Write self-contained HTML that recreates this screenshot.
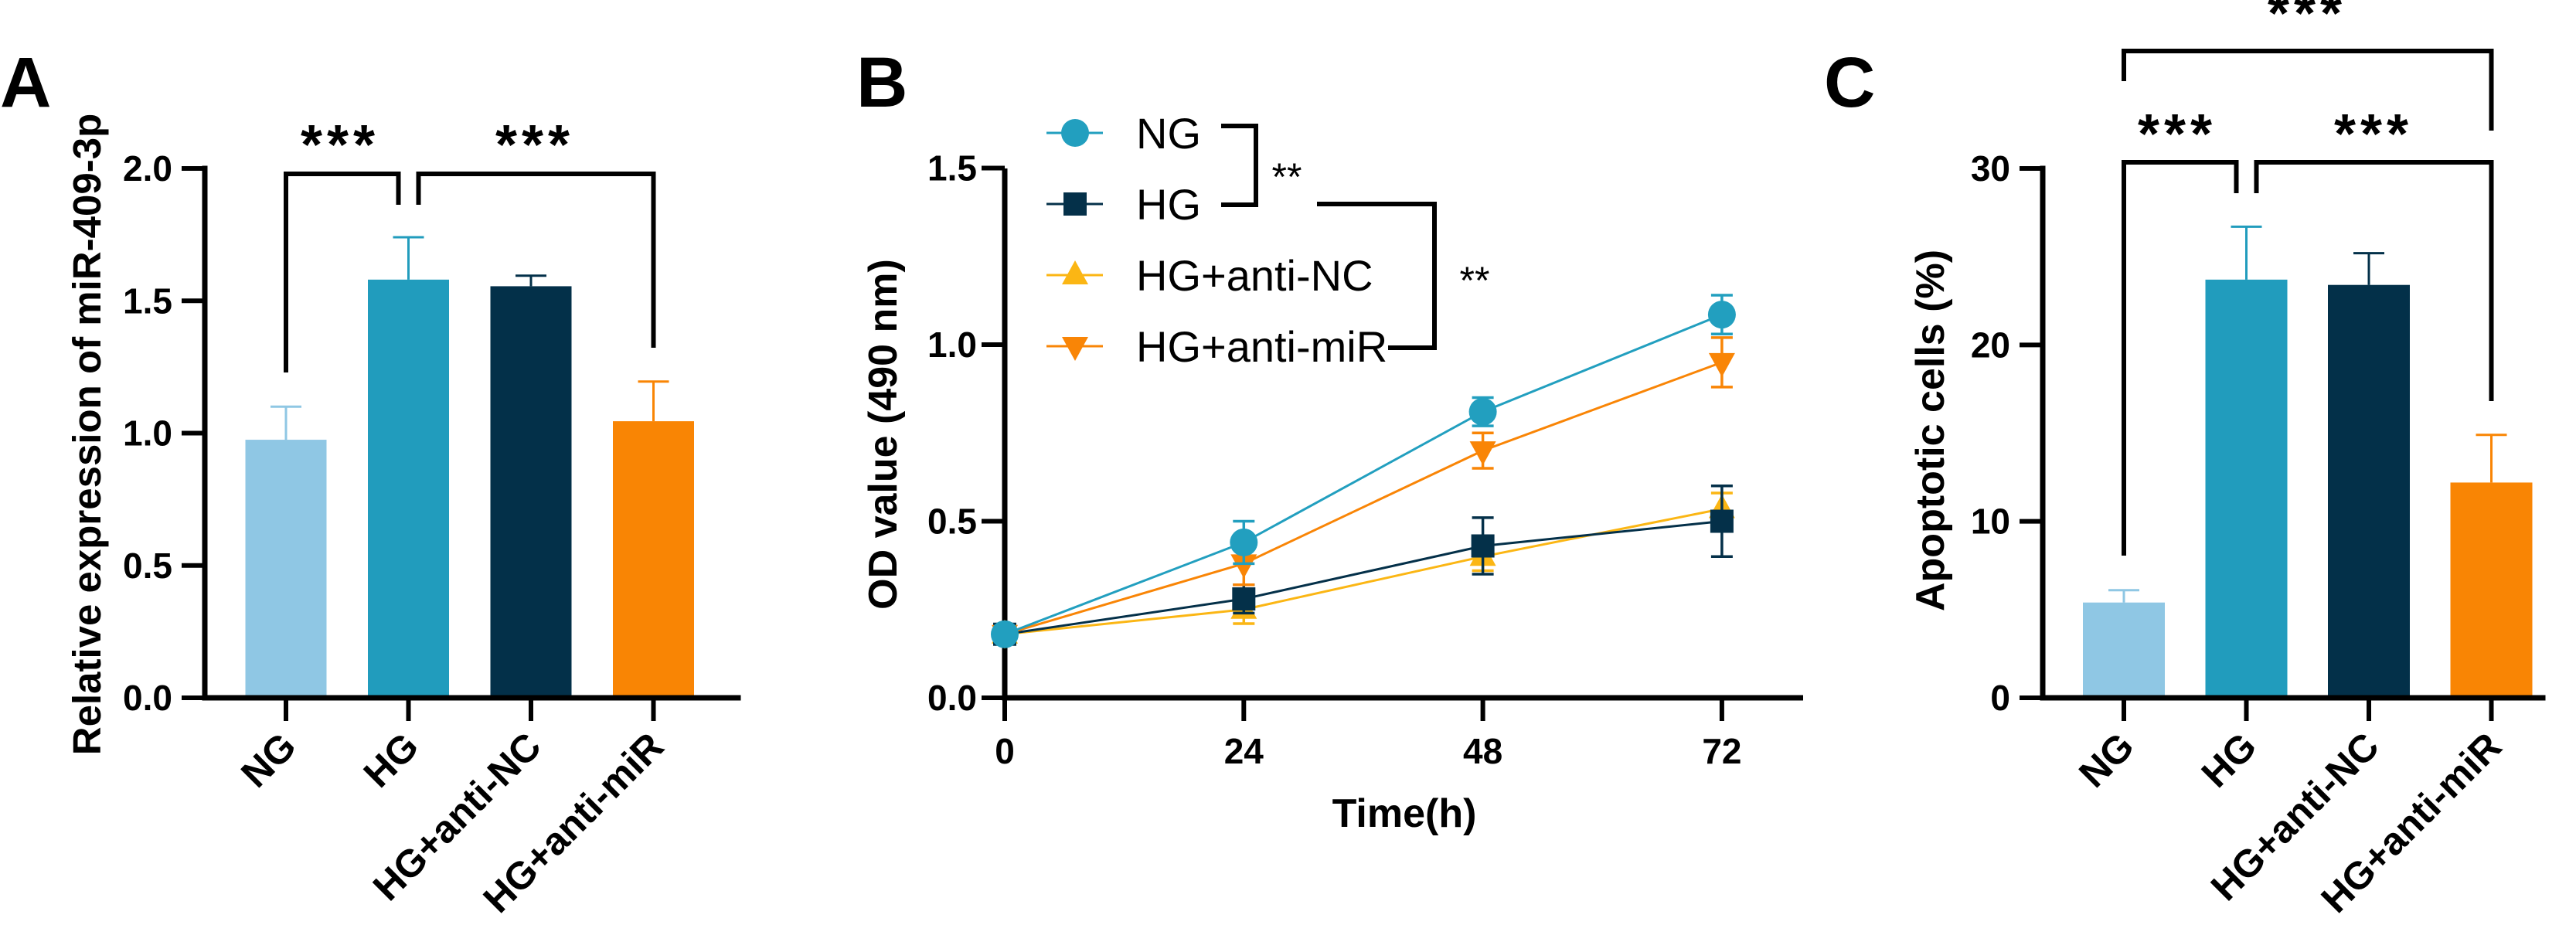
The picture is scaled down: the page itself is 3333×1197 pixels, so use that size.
<!DOCTYPE html>
<html><head><meta charset="utf-8"><style>
html,body{margin:0;padding:0;background:#fff}
svg{display:block;font-family:"Liberation Sans",Arial,sans-serif}
</style></head><body>
<svg id="fig" width="3333" height="1197" viewBox="0 0 3333 1197">
<g id="pa"></g>
<g id="pb"></g>
<g id="pc"></g>
</svg>
<script>
// ---- data ----
const barCategories = ["NG","HG","HG+anti-NC","HG+anti-miR"];
const barColors = ["#8fc7e4","#219cbd","#033049","#f98504"];
const aValues = [0.975,1.58,1.555,1.045];
const aErrors = [0.125,0.16,0.04,0.15];
const aTicks = [0,0.5,1.0,1.5,2.0];
const aTickLabels = ["0.0","0.5","1.0","1.5","2.0"];
const cValues = [5.4,23.7,23.4,12.2];
const cErrors = [0.7,3.0,1.8,2.7];
const cTicks = [0,10,20,30];
const cTickLabels = ["0","10","20","30"];
const bTimes = [0,24,48,72];
const bTickLabels = ["0","24","48","72"];
const bYTicks = [0,0.5,1.0,1.5];
const bYTickLabels = ["0.0","0.5","1.0","1.5"];
const bSeriesNames = ["NG","HG","HG+anti-NC","HG+anti-miR"];
const bNG = [0.18,0.44,0.81,1.085];
const bNGerr = [0.02,0.06,0.04,0.055];
const bHG = [0.18,0.28,0.43,0.50];
const bHGerr = [0.02,0.04,0.08,0.10];
const bNC = [0.18,0.25,0.40,0.535];
const bNCerr = [0.02,0.04,0.04,0.045];
const bMIR = [0.18,0.38,0.70,0.95];
const bMIRerr = [0.02,0.06,0.05,0.07];
const bColors = ["#229fbf","#043049","#fbb614","#f98506"];
const bMarkers = ["circle","square","up","down"];

const NS="http://www.w3.org/2000/svg";
function mk(parent,tag,attrs,text){const e=document.createElementNS(NS,tag);for(const k in attrs)e.setAttribute(k,attrs[k]);if(text!==undefined)e.textContent=text;parent.appendChild(e);return e;}

function barPanel(g,opt){
  const y=v=>opt.y0-(v-opt.vmin)/(opt.vmax-opt.vmin)*(opt.y0-opt.y1);
  const x=i=>opt.xc0+i*opt.step;
  opt.values.forEach((v,i)=>{
    const r=mk(g,"rect",{x:x(i)-opt.bw/2,y:y(v),width:opt.bw,height:opt.y0-y(v),fill:barColors[i]});
    
    
    const e=mk(g,"path",{d:`M${x(i)} ${y(v)}V${y(v+opt.errors[i])}M${x(i)-20} ${y(v+opt.errors[i])}H${x(i)+20}`,stroke:barColors[i],"stroke-width":3,fill:"none"});
    
    
  });
  const ax=mk(g,"path",{d:`M${opt.ax} ${opt.y1}V${opt.y0}H${opt.axEnd}`,stroke:"#000","stroke-width":7,fill:"none","stroke-linecap":"square"});
  
  
  opt.ticks.forEach((t,i)=>{
    mk(g,"line",{x1:opt.ax-30,x2:opt.ax,y1:y(t),y2:y(t),stroke:"#000","stroke-width":6});
    const l=mk(g,"text",{x:opt.ax-42,y:y(t)+16,"text-anchor":"end","font-size":46,"font-weight":"bold"},opt.tickLabels[i]);
    
    
  });
  barCategories.forEach((c,i)=>{
    mk(g,"line",{x1:x(i),x2:x(i),y1:opt.y0,y2:opt.y0+30,stroke:"#000","stroke-width":6});
    const l=mk(g,"text",{x:x(i)+16,y:opt.y0+66,"text-anchor":"end","font-size":50,"font-weight":"bold",transform:`rotate(-45 ${x(i)+16} ${opt.y0+66})`},c);
    
    
  });
  const yt=mk(g,"text",{x:opt.ytx,y:opt.yty,"text-anchor":"middle","font-size":opt.ytfs,"font-weight":"bold",transform:`rotate(-90 ${opt.ytx} ${opt.yty})`},opt.ytitle);
  
  
  const pl=mk(g,"text",{x:opt.lx,y:opt.ly,"font-size":92,"font-weight":"bold"},opt.letter);
  
  
  return {x,y};
}
function bracket(g,d,sx,sy,stars,fs){
  if(d){
  const p=mk(g,"path",{d:d,stroke:"#000","stroke-width":6,fill:"none"});
  
  
  }
  const t=mk(g,"text",{x:sx,y:sy,"text-anchor":"middle","font-size":fs,"font-weight":"bold","letter-spacing":6},stars);
  
  
}

// Panel A
const ga=document.getElementById('pa');
const A=barPanel(ga,{values:aValues,errors:aErrors,ticks:aTicks,tickLabels:aTickLabels,vmin:0,vmax:2,y0:903,y1:218,ax:265,axEnd:955,xc0:370,step:158.5,bw:105,ytx:130,yty:562,ytfs:51,ytitle:"Relative expression of miR-409-3p",lx:0,ly:138,letter:"A"});
bracket(ga,`M${A.x(0)} 482V225H${A.x(1)-13}V265M${A.x(1)+13} 265V225H${A.x(3)}V450`,440,212,"***",72);
bracket(ga,"",692,212,"***",72);

// Panel C
const gc=document.getElementById('pc');
const C=barPanel(gc,{values:cValues,errors:cErrors,ticks:cTicks,tickLabels:cTickLabels,vmin:0,vmax:30,y0:903,y1:218,ax:2643,axEnd:3290,xc0:2748,step:158.5,bw:106,ytx:2515,yty:557,ytfs:52,ytitle:"Apoptotic cells (%)",lx:2360,ly:138,letter:"C"});
bracket(gc,`M${C.x(0)} 719V210H${C.x(1)-13}V250M${C.x(1)+13} 250V210H${C.x(3)}V519`,2817,198,"***",72);
bracket(gc,"",3071,198,"***",72);
bracket(gc,`M${C.x(0)} 105V66H${C.x(3)}V169`,2985,42,"***",72);

// Panel B
const gb=document.getElementById('pb');
const bx=t=>1300+t/24*309.3;
const by=v=>903-v*457;
const axB=mk(gb,"path",{d:`M1300 218V903H2333`,stroke:"#000","stroke-width":7,fill:"none"});


bYTicks.forEach((t,i)=>{
  mk(gb,"line",{x1:1270,x2:1300,y1:by(t),y2:by(t),stroke:"#000","stroke-width":6});
  const l=mk(gb,"text",{x:1264,y:by(t)+16,"text-anchor":"end","font-size":46,"font-weight":"bold"},bYTickLabels[i]);
  
  
});
bTimes.forEach((t,i)=>{
  mk(gb,"line",{x1:bx(t),x2:bx(t),y1:903,y2:933,stroke:"#000","stroke-width":6});
  const l=mk(gb,"text",{x:bx(t),y:988,"text-anchor":"middle","font-size":46,"font-weight":"bold"},bTickLabels[i]);
  
  
});
const xtB=mk(gb,"text",{x:1817,y:1070,"text-anchor":"middle","font-size":52,"font-weight":"bold"},"Time(h)");


const ytB=mk(gb,"text",{x:1160,y:562,"text-anchor":"middle","font-size":52,"font-weight":"bold",transform:"rotate(-90 1160 562)"},"OD value (490 nm)");


const plB=mk(gb,"text",{x:1108,y:138,"font-size":92,"font-weight":"bold"},"B");



function marker(g,type,cx,cy,col){
  if(type==="circle")return mk(g,"circle",{cx:cx,cy:cy,r:18,fill:col});
  if(type==="square")return mk(g,"rect",{x:cx-15,y:cy-15,width:30,height:30,fill:col});
  if(type==="up")return mk(g,"path",{d:`M${cx} ${cy-19}L${cx+17} ${cy+12}H${cx-17}Z`,fill:col});
  return mk(g,"path",{d:`M${cx} ${cy+19}L${cx+17} ${cy-12}H${cx-17}Z`,fill:col});
}
const bSeries=[[bNG,bNGerr],[bHG,bHGerr],[bNC,bNCerr],[bMIR,bMIRerr]];
const drawOrder=[2,1,3,0];
drawOrder.forEach(s=>{
  const [vals,errs]=bSeries[s];const col=bColors[s];
  const sg=mk(gb,"g",{});
  
  
  mk(sg,"polyline",{points:vals.map((v,i)=>bx(bTimes[i])+","+by(v)).join(" "),fill:"none",stroke:col,"stroke-width":3});
  vals.forEach((v,i)=>{
    const X=bx(bTimes[i]);
    mk(sg,"path",{d:`M${X} ${by(v-errs[i])}V${by(v+errs[i])}M${X-14} ${by(v-errs[i])}H${X+14}M${X-14} ${by(v+errs[i])}H${X+14}`,stroke:col,"stroke-width":3.5,fill:"none"});
    const m=marker(sg,bMarkers[s],X,by(v),col);
    
    
  });
});
bSeriesNames.forEach((n,i)=>{
  const ly=172+i*92;
  const lg=mk(gb,"g",{});
  
  
  mk(lg,"line",{x1:1354,x2:1427,y1:ly,y2:ly,stroke:bColors[i],"stroke-width":3});
  marker(lg,bMarkers[i],1391,ly,bColors[i]);
  mk(lg,"text",{x:1470,y:ly+20,"font-size":56},n);
});
const br1=mk(gb,"path",{d:"M1580 163H1625V265H1580M1704 264H1856V450H1796",stroke:"#000","stroke-width":6,fill:"none"});


const s1=mk(gb,"text",{x:1665,y:246,"text-anchor":"middle","font-size":50},"**");


const s2=mk(gb,"text",{x:1908,y:380,"text-anchor":"middle","font-size":50},"**");


</script>
</body></html>
